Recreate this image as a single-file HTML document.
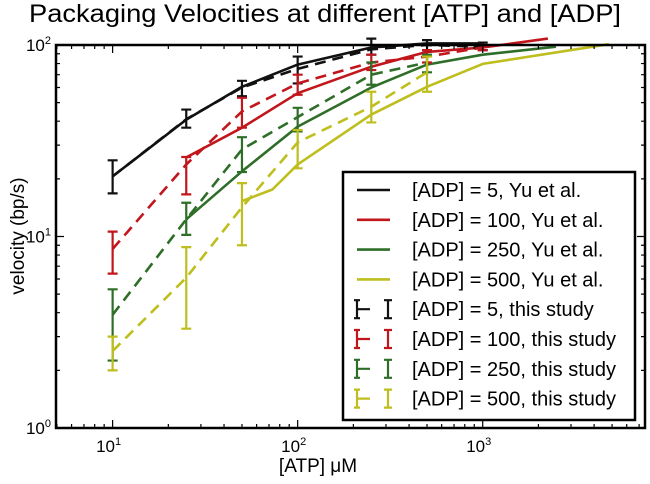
<!DOCTYPE html>
<html><head><meta charset="utf-8"><style>
body{margin:0;background:#fff;}
svg text{font-family:"Liberation Sans",sans-serif;fill:#000;}
</style></head><body>
<svg id="chart" width="650" height="479" xmlns="http://www.w3.org/2000/svg">
<text x="325" y="22" font-size="25" text-anchor="middle" textLength="592" lengthAdjust="spacingAndGlyphs">Packaging Velocities at different [ATP] and [ADP]</text>
<text x="0" y="0" font-size="19" text-anchor="middle" transform="translate(24,236) rotate(-90)">velocity (bp/s)</text>
<text x="318" y="472" font-size="19" text-anchor="middle">[ATP] μM</text>
<g id="marks"></g>
<g id="axes"></g>
<g id="legend"></g>
</svg>
<script>
const colors=['#111111','#c0161c','#2f6e28','#bebe1e'];
const adpLabels=['5','100','250','500'];
// Yu et al. (solid)
const yuX=[[10,25,50,100,250,500,1000],[25,50,100,250,500,1000,2250],[25,50,100,250,500,1000,2490],[50,73,100,250,500,1000,4800]];
const yuV=[[20.6,40.8,60.5,79,97,102,102],[25.9,37,56,77,92,97,108],[12.3,21.9,37.5,60,79,89,98],[15.3,17.6,23.8,43.3,60.5,79.7,101]];
// this study (dashed + error bars)
const stX=[[10,25,50,100,250,500,1000],[10,25,50,100,250,500,1000],[10,25,50,100,250,500],[10,25,50,100,250,500]];
const stV=[[20.6,41,60,75,95,100,98],[8.6,23.8,45,63,81,87,97],[3.9,12.3,28.5,42,70,81],[2.52,6.1,14.2,31,47.6,72]];
const stLo=[[16.8,37,54,63,89,94,94],[6.4,16.6,37,55,74,81,94],[2.25,10.2,21.7,35.4,62,72],[2.0,3.3,9.0,22.7,39.4,57]];
const stHi=[[25,46,65,87,108,106,103],[10.6,26,53,70,89,94,100],[5.3,15,33,47,81,89],[3.0,8.8,19,36,57,87]];
const xTicks=[1,2,3];const yTicks=[0,1,2];

const L=56,R=645,T=45,B=428;
const xMinL=0.694,xMaxL=3.877,yMinL=0,yMaxL=2;
const xs=v=>L+(Math.log10(v)-xMinL)/(xMaxL-xMinL)*(R-L);
const ys=v=>B-(Math.log10(v)-yMinL)/(yMaxL-yMinL)*(B-T);
const NS='http://www.w3.org/2000/svg';
function mk(tag,attrs,parent){const e=document.createElementNS(NS,tag);for(const k in attrs)e.setAttribute(k,attrs[k]);parent.appendChild(e);return e;}
const marks=document.getElementById('marks'),axes=document.getElementById('axes'),leg=document.getElementById('legend');

for(let s=0;s<4;s++){
  const d=yuX[s].map((x,i)=>(i?'L':'M')+xs(x).toFixed(1)+','+ys(yuV[s][i]).toFixed(1)).join('');
  const p=mk('path',{d:d,fill:'none',stroke:colors[s],'stroke-width':2.6,'stroke-linejoin':'round'},marks);
  
  
}
for(let s=0;s<4;s++){
  const d=stX[s].map((x,i)=>(i?'L':'M')+xs(x).toFixed(1)+','+ys(stV[s][i]).toFixed(1)).join('');
  const p=mk('path',{d:d,fill:'none',stroke:colors[s],'stroke-width':2.6,'stroke-dasharray':'11,7'},marks);
  
  
  stX[s].forEach((x,i)=>{
    const cx=xs(x),y1=ys(stLo[s][i]),y2=ys(stHi[s][i]);
    const g=mk('path',{d:`M${cx},${y1}L${cx},${y2}M${cx-5},${y1}L${cx+5},${y1}M${cx-5},${y2}L${cx+5},${y2}`,stroke:colors[s],'stroke-width':2.2,fill:'none'},marks);
    
    
  });
}
const fr=mk('rect',{x:L,y:T,width:R-L,height:B-T,fill:'none',stroke:'#000','stroke-width':2.5},axes);


let tk='';
for(let e=0;e<=3;e++)for(let m=1;m<10;m++){const v=m*Math.pow(10,e);const lv=Math.log10(v);if(lv<xMinL||lv>xMaxL)continue;const x=xs(v);const len=m===1?8:4;tk+=`M${x},${B}L${x},${B-len}M${x},${T}L${x},${T+len}`;}
for(let e=0;e<2;e++)for(let m=1;m<10;m++){const v=m*Math.pow(10,e);const y=ys(v);const len=m===1?8:4;tk+=`M${L},${y}L${L+len},${y}M${R},${y}L${R-len},${y}`;}
const tp=mk('path',{d:tk,stroke:'#000','stroke-width':1.2,fill:'none'},axes);


xTicks.forEach(e=>{const t=mk('text',{x:xs(Math.pow(10,e))-4,y:B+24,'font-size':17,'text-anchor':'middle'},axes);t.innerHTML='10<tspan font-size="11" dy="-7">'+e+'</tspan>';

});
yTicks.forEach(e=>{const t=mk('text',{x:L-5,y:ys(Math.pow(10,e))+6,'font-size':17,'text-anchor':'end'},axes);t.innerHTML='10<tspan font-size="11" dy="-7">'+e+'</tspan>';

});
const lb=mk('rect',{x:343,y:172,width:292,height:248,fill:'#fff',stroke:'#000','stroke-width':2.5},leg);


for(let i=0;i<8;i++){
  const y=190+i*29.8,s=i%4,c=colors[s];
  if(i<4){const l=mk('path',{d:`M357,${y}L390,${y}`,stroke:c,'stroke-width':2.6},leg);
    
    }
  else{const l=mk('path',{d:`M357,${y-9}L357,${y+9}M357,${y}L370,${y}M388,${y-9}L388,${y+9}M384,${y-9}L392,${y-9}M384,${y+9}L392,${y+9}M354,${y-9}L360,${y-9}M354,${y+9}L360,${y+9}`,stroke:c,'stroke-width':2.2,fill:'none'},leg);
    
    }
  const t=mk('text',{x:412,y:y+7,'font-size':20},leg);
  t.textContent='[ADP] = '+adpLabels[s]+(i<4?', Yu et al.':', this study');
  
  
}
</script>
</body></html>
